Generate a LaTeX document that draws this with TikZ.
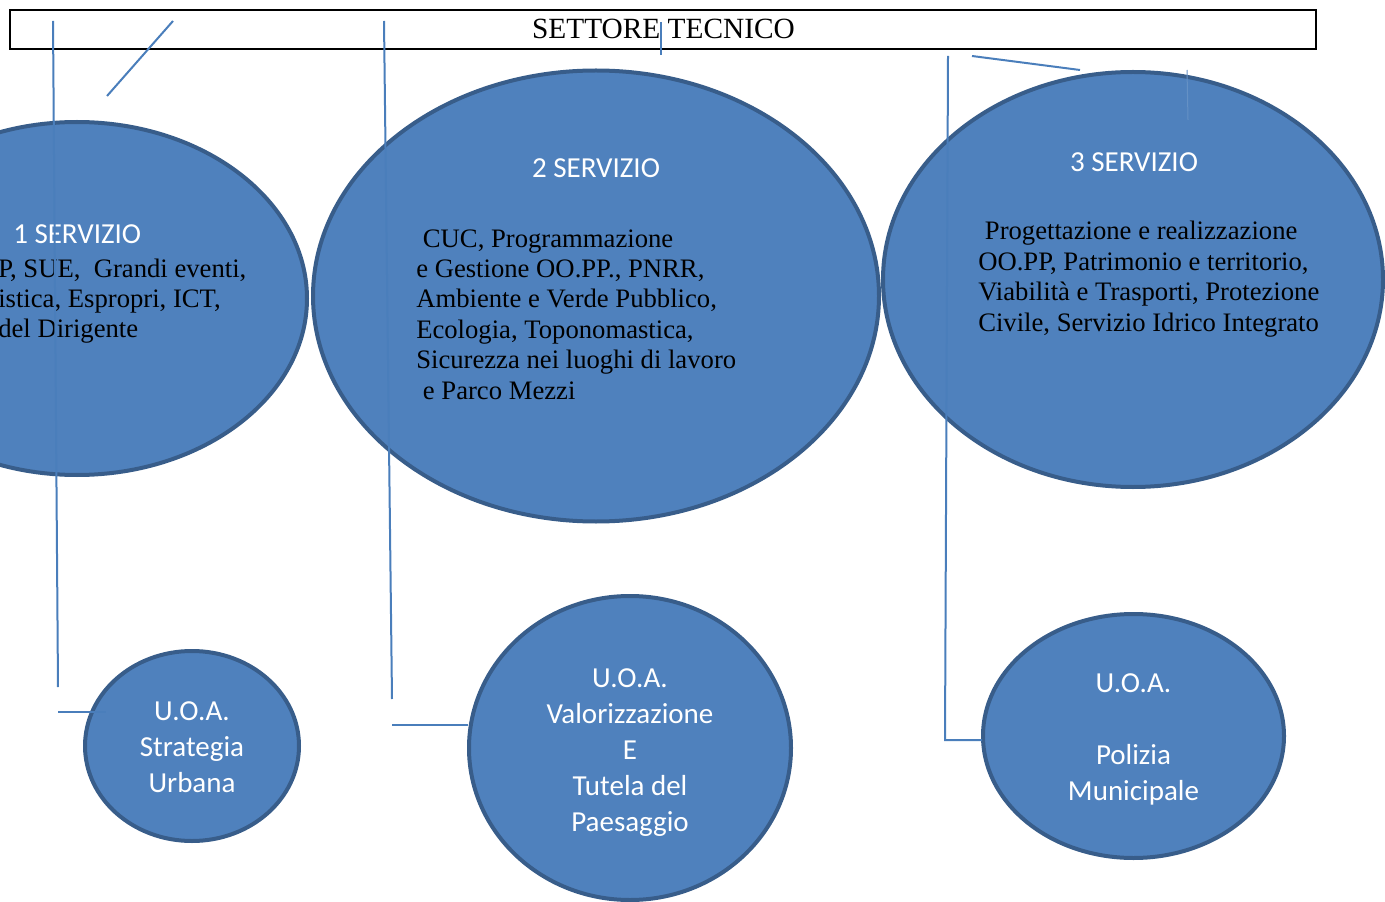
\documentclass[tikz,border=0pt]{standalone}
\usepackage{fontspec}
\setmainfont{Liberation Serif}
\newfontfamily\calibri{Carlito}
\usetikzlibrary{shapes.geometric}
\definecolor{ofill}{HTML}{4F81BD}
\definecolor{oline}{HTML}{385D8A}
\definecolor{linkc}{HTML}{4A7EBB}
\begin{document}
\begin{tikzpicture}[x=0.75pt,y=-0.75pt,
  unit/.style={ellipse, draw=oline, fill=ofill, line width=3pt, inner sep=0pt},
  linkline/.style={draw=linkc, line width=1.5pt},
  head/.style={font=\calibri\fontsize{21.75}{27}\selectfont, text=white, inner sep=0pt},
  body/.style={font=\fontsize{20}{22.8}\selectfont, align=left, inner sep=0pt, anchor=base west},
  uoa/.style={head, align=center, anchor=base}]

\useasboundingbox (0,0) rectangle (1385,902);

% sector header
\node[draw, line width=1.5pt, rectangle, inner sep=0pt,
      minimum width=979.5pt, minimum height=29.25pt] (settore) at (663,29.5) {};
\node[anchor=base, inner sep=0pt, font=\fontsize{22}{26}\selectfont] (titolo) at (663.5,38.5) {SETTORE TECNICO};

% services
\node[unit, minimum width=345pt, minimum height=264.75pt] (s1) at (77,298.5) {};
\node[unit, minimum width=424.5pt, minimum height=338.25pt] (s2) at (596,296) {};
\node[unit, minimum width=375pt, minimum height=311.25pt] (s3) at (1133,279.5) {};

% operating units
\node[unit, minimum width=160.5pt, minimum height=142.5pt] (u1) at (192,746) {};
\node[unit, minimum width=241.5pt, minimum height=228pt] (u2) at (630,748) {};
\node[unit, minimum width=225.75pt, minimum height=183pt] (u3) at (1133.5,736) {};

% service texts (multi-line blocks are placed by the baseline of their last line)
\node[head, anchor=base west] (t1) at (13,244) {1 SERVIZIO};
\node[body] (b1) at (-2,338) {P, SUE,\ \ Grandi eventi,\\istica, Espropri, ICT,\\del Dirigente};

\node[head, anchor=base] (t2) at (596,178) {2 SERVIZIO};
\node[body] (b2) at (416,399) {\ CUC, Programmazione\\e Gestione OO.PP., PNRR,\\Ambiente e Verde Pubblico,\\Ecologia, Toponomastica,\\Sicurezza nei luoghi di lavoro\\\ e Parco Mezzi};

\node[head, anchor=base] (t3) at (1134,172) {3 SERVIZIO};
\node[body] (b3) at (978,331) {\ Progettazione e realizzazione\\OO.PP, Patrimonio e territorio,\\Viabilità e Trasporti, Protezione\\Civile, Servizio Idrico Integrato};

% unit texts
\node[uoa] (v1) at (192,792) {U.O.A.\\Strategia\\Urbana};
\node[uoa] (v2) at (630,831) {U.O.A.\\Valorizzazione\\E\\Tutela del\\Paesaggio};
\node[uoa] (v3) at (1133.5,800) {U.O.A.\\\mbox{}\\Polizia\\Municipale};

% connector ends
\coordinate (a1) at (53,21);   \coordinate (a2) at (58,687);
\coordinate (a3) at (58,712);  \coordinate (a4) at (106,712);
\coordinate (d1) at (173,21);  \coordinate (d2) at (107,96);
\coordinate (c1) at (384,21);  \coordinate (c2) at (392,699);
\coordinate (c3) at (392,725); \coordinate (c4) at (468,725);
\coordinate (m1) at (661,22);  \coordinate (m2) at (661,55);
\coordinate (e1) at (948,56);  \coordinate (e2) at (945,740);
\coordinate (e3) at (982,740);
\coordinate (f1) at (972,56);  \coordinate (f2) at (1080,70);
\coordinate (g1) at (1187,70); \coordinate (g2) at (1188,120);

% connectors
\draw[linkline] (a1) -- (a2);
\draw[linkline] (a3) -- (a4);
\draw[linkline] (d1) -- (d2);
\draw[linkline] (c1) -- (c2);
\draw[linkline] (c3) -- (c4);
\draw[linkline] (m1) -- (m2);
\draw[linkline] (e1) -- (e2) -- (e3);
\draw[linkline] (f1) -- (f2);
\draw[draw=linkc!85!white, line width=0.75pt] (g1) -- (g2);
\end{tikzpicture}
\end{document}
